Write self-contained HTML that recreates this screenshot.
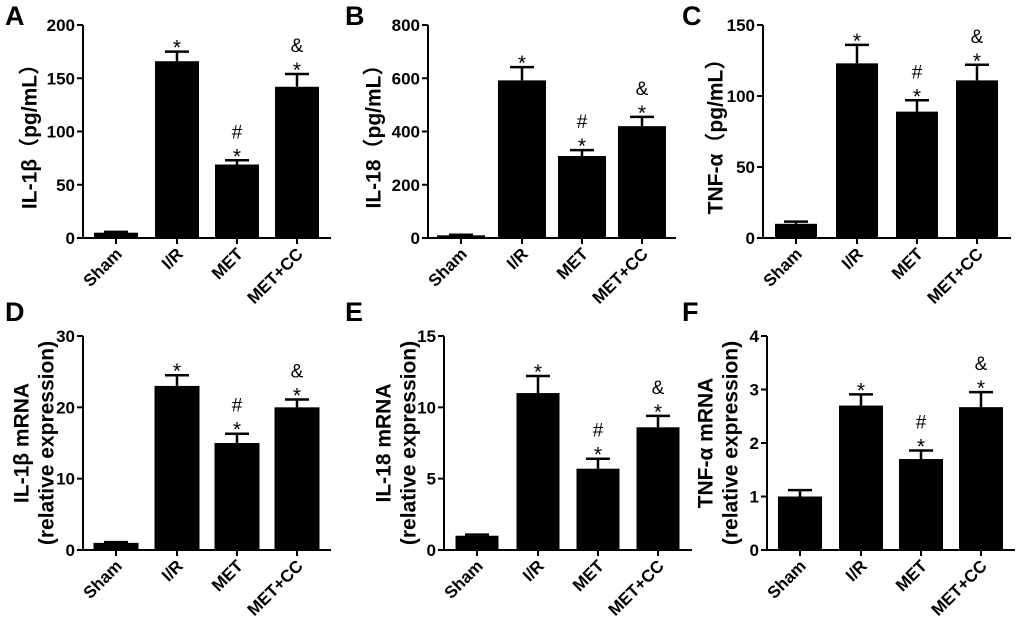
<!DOCTYPE html>
<html><head><meta charset="utf-8"><style>
html,body{margin:0;padding:0;background:#fff;}
svg{display:block;font-family:"Liberation Sans","Noto Sans CJK SC",sans-serif;}
</style></head><body>
<svg id="fig" width="1020" height="630" viewBox="0 0 1020 630"></svg>
<script>
const categories = ["Sham","I/R","MET","MET+CC"];
const valuesA = [5,166,69,142];
const errorsA = [0.8,9,4,12];
const valuesB = [10,592,308,420];
const errorsB = [2,50,22,35];
const valuesC = [10,123,89,111];
const errorsC = [1.5,13,8,11];
const valuesD = [1,23,15,20];
const errorsD = [0.1,1.5,1.3,1.1];
const valuesE = [1,11,5.7,8.6];
const errorsE = [0.08,1.2,0.7,0.8];
const valuesF = [1,2.7,1.7,2.67];
const errorsF = [0.12,0.21,0.16,0.28];
const ticksA = [0,50,100,150,200];
const ticksB = [0,200,400,600,800];
const ticksC = [0,50,100,150];
const ticksD = [0,10,20,30];
const ticksE = [0,5,10,15];
const ticksF = [0,1,2,3,4];
const marksList = [[],["*"],["*","#"],["*","&"]];

const NS="http://www.w3.org/2000/svg";
const svg=document.getElementById('fig');
function mk(tag,attrs,parent,text){
  const e=document.createElementNS(NS,tag);
  for(const k in attrs) e.setAttribute(k,attrs[k]);
  if(text!==undefined) e.textContent=text;
  (parent||svg).appendChild(e);
  return e;
}
const panels=[
 {id:'a',letter:'A',lx:5,ly:25,ax:83,top:25,bot:238,max:200,ticks:ticksA,vals:valuesA,errs:errorsA,ylab:['IL-1β（pg/mL）'],labx:[30],bw:44},
 {id:'b',letter:'B',lx:345,ly:25,ax:428,top:25,bot:238,max:800,ticks:ticksB,vals:valuesB,errs:errorsB,ylab:['IL-18（pg/mL）'],labx:[374],bw:48},
 {id:'c',letter:'C',lx:682,ly:25,ax:763,top:25,bot:238,max:150,ticks:ticksC,vals:valuesC,errs:errorsC,ylab:['TNF-α（pg/mL）'],labx:[716],bw:42},
 {id:'d',letter:'D',lx:5,ly:321,ax:83,top:336,bot:550,max:30,ticks:ticksD,vals:valuesD,errs:errorsD,ylab:['IL-1β mRNA','(relative expression)'],labx:[22,47],bw:45},
 {id:'e',letter:'E',lx:345,ly:321,ax:444,top:336,bot:550,max:15,ticks:ticksE,vals:valuesE,errs:errorsE,ylab:['IL-18 mRNA','(relative expression)'],labx:[384,409],bw:43},
 {id:'f',letter:'F',lx:682,ly:321,ax:767,top:336,bot:550,max:4,ticks:ticksF,vals:valuesF,errs:errorsF,ylab:['TNF-α mRNA','(relative expression)'],labx:[706,731],bw:44}
];
const offsets=[33,94,154,214];
panels.forEach(p=>{
  const g=mk('g',{});
  
  
  const y=v=>p.bot-(v/p.max)*(p.bot-p.top);
  const xc=i=>p.ax+offsets[i];
  const L=mk('text',{x:p.lx,y:p.ly,'font-size':27,'font-weight':'bold'},g,p.letter);
  
  
  p.vals.forEach((v,i)=>{
    const r=mk('rect',{x:xc(i)-p.bw/2,y:y(v),width:p.bw,height:p.bot-y(v),fill:'#000'},g);
    
    
    const et=y(v+p.errs[i]);
    const e=mk('path',{d:`M${xc(i)} ${y(v)}V${et}M${xc(i)-12} ${et}H${xc(i)+12}`,stroke:'#000','stroke-width':2.5,fill:'none'},g);
    
    
    marksList[i].forEach((m,k)=>{
      const t=mk('text',{x:xc(i),y:et-5-k*17+(m==='*'?8:0),'font-size':m==='*'?21:19,'text-anchor':'middle'},g,m);
      
      
    });
  });
  const axr=p.ax+248;
  const ax=mk('path',{d:`M${p.ax} ${p.top}V${p.bot}H${axr}`,stroke:'#000','stroke-width':2,fill:'none'},g);
  
  
  p.ticks.forEach(t=>{
    mk('path',{d:`M${p.ax-6} ${y(t)}H${p.ax}`,stroke:'#000','stroke-width':2},g);
    const tl=mk('text',{x:p.ax-8,y:y(t)+6,'font-size':17,'font-weight':'bold','text-anchor':'end'},g,t);
    
    
  });
  categories.forEach((c,i)=>{
    mk('path',{d:`M${xc(i)} ${p.bot}V${p.bot+6}`,stroke:'#000','stroke-width':2},g);
    const tl=mk('text',{x:xc(i)+7,y:p.bot+17,'font-size':17,'font-weight':'bold','text-anchor':'end',transform:`rotate(-45 ${xc(i)+7} ${p.bot+17})`},g,c);
    
    
  });
  const cy=(p.top+p.bot)/2;
  p.ylab.forEach((s,k)=>{
    const t=mk('text',{x:p.labx[k],y:cy,'font-size':21,'font-weight':'bold','text-anchor':'middle','dominant-baseline':'central',transform:`rotate(-90 ${p.labx[k]} ${cy})`},g,s);
    
    
  });
});
</script>
</body></html>
